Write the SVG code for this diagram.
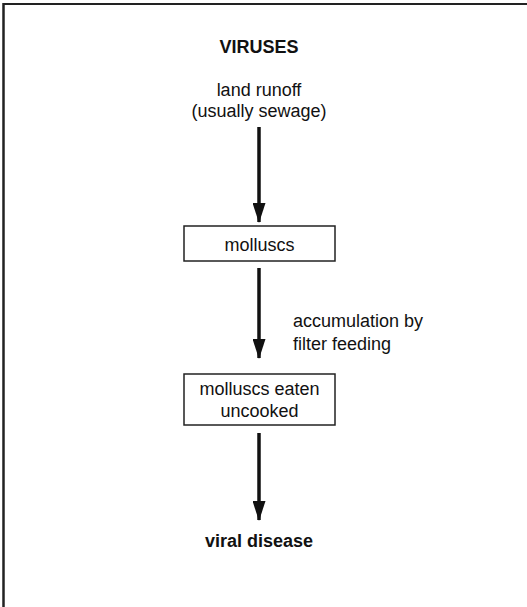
<svg xmlns="http://www.w3.org/2000/svg" width="527" height="607" viewBox="0 0 527 607">
<style>
text{font-family:"Liberation Sans",Arial,Helvetica,sans-serif;font-size:18px;fill:#111;}
.b{font-weight:bold;}
.c{text-anchor:middle;}
.box{fill:#fff;stroke:#222;stroke-width:1.5;}
.arr{stroke:#111;stroke-width:3.5;fill:none;marker-end:url(#ah);}
</style>
<defs>
<marker id="ah" markerUnits="userSpaceOnUse" markerWidth="20" markerHeight="13" refX="19" refY="6.5" orient="auto" viewBox="0 0 20 13">
<path d="M0,0 L20,6.5 L0,13 Z" fill="#111"/>
</marker>
</defs>
<rect width="527" height="607" fill="#fff"/>
<g id="frame">
<line x1="3.5" y1="3" x2="3.5" y2="607" stroke="#222" stroke-width="2.5"/>
<line x1="3" y1="4" x2="527" y2="4" stroke="#222" stroke-width="2"/>
</g>
<g id="connectors">
<line class="arr" x1="259" y1="127" x2="259" y2="222"/>
<line class="arr" x1="259" y1="268" x2="259" y2="358"/>
<line class="arr" x1="259" y1="433" x2="259" y2="520"/>
<g id="edge-label">
<text x="293" y="327">accumulation by</text>
<text x="293" y="350">filter feeding</text>
</g>
</g>
<g id="viruses">
<text class="b c" x="259" y="53">VIRUSES</text>
</g>
<g id="runoff">
<text class="c" x="259" y="96">land runoff</text>
<text class="c" x="259" y="117">(usually sewage)</text>
</g>
<g id="molluscs">
<rect class="box" x="184" y="226" width="151" height="35"/>
<text class="c" x="259.5" y="251">molluscs</text>
</g>
<g id="eaten">
<rect class="box" x="184" y="374" width="151" height="51"/>
<text class="c" x="259.5" y="395">molluscs eaten</text>
<text class="c" x="259.5" y="417">uncooked</text>
</g>
<g id="disease">
<text class="b c" x="259" y="547">viral disease</text>
</g>
</svg>
